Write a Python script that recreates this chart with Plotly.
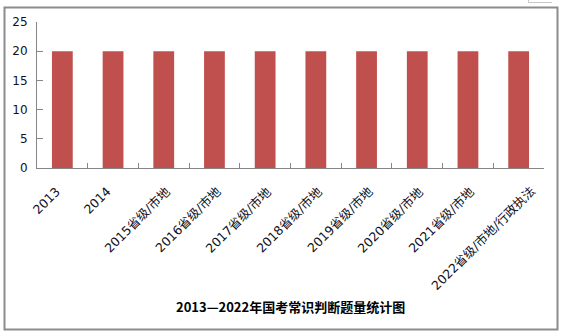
import plotly.graph_objects as go

categories = ["2013", "2014", "2015省级/市地", "2016省级/市地", "2017省级/市地",
              "2018省级/市地", "2019省级/市地", "2020省级/市地", "2021省级/市地",
              "2022省级/市地/行政执法"]
values = [20, 20, 20, 20, 20, 20, 20, 20, 20, 20]
title_text = "2013—2022年国考常识判断题量统计图"

W, H = 563, 335
L, R, T, B = 37, 19, 22, 167
pw, ph = W - L - R, H - T - B

def px(x):
    return (x - L) / pw

def py(y):
    return (H - B - y) / ph

fig = go.Figure(go.Bar(x=categories, y=values, marker_color="#C0504D",
                       marker_line_width=0))

font = "DejaVu Sans, Noto Sans CJK SC, sans-serif"
fig.update_layout(
    width=W, height=H,
    margin=dict(l=L, r=R, t=T, b=B),
    paper_bgcolor="white", plot_bgcolor="white",
    bargap=0.59,
    showlegend=False,
    font=dict(family=font, size=12, color="#1a1a2e"),
)
fig.update_xaxes(
    type="category", categoryorder="array", categoryarray=categories,
    range=[-0.5, len(categories) - 0.5],
    showline=True, linecolor="#868686", linewidth=1,
    ticks="inside", ticklen=5, tickcolor="#868686",
    tickson="boundaries", showticklabels=False,
    showgrid=False,
)
fig.update_yaxes(
    range=[0, 25], dtick=5,
    showline=True, linecolor="#868686", linewidth=1,
    ticks="inside", ticklen=6, tickcolor="#868686",
    tickfont=dict(size=12, color="#111122"),
    ticklabelstandoff=6,
    showgrid=False, zeroline=False,
)

# rotated category labels (Excel-style anchoring); x is the category index
for i, c in enumerate(categories):
    n_cjk = sum(1 for ch in c if ord(ch) > 0x2E80)
    fig.add_annotation(
        x=i, y=0, xref="x", yref="y", text=c, showarrow=False,
        textangle=-45, xanchor="right", yanchor="top",
        xshift=2 + 2.3 * n_cjk, yshift=-14, borderpad=0,
        font=dict(size=12.5, color="#111122", family=font),
    )

fig.add_annotation(
    x=px(290.5), y=py(306.5), xref="paper", yref="paper",
    text="<b>" + title_text + "</b>", showarrow=False,
    font=dict(size=13, color="black", family="Noto Sans CJK SC, sans-serif"),
    xanchor="center", yanchor="middle",
)
fig.add_shape(type="rect", xref="paper", yref="paper",
              x0=px(4.5), x1=px(557.5), y0=py(329.5), y1=py(7.5),
              line=dict(color="#8c8c8c", width=2), layer="below")
fig.add_shape(type="path", xref="paper", yref="paper",
              path=f"M {px(528.5)} {py(0)} L {px(528.5)} {py(2.5)} L {px(552)} {py(2.5)}",
              line=dict(color="#c8c8c8", width=1), layer="below")
fig.write_html("out.html")
